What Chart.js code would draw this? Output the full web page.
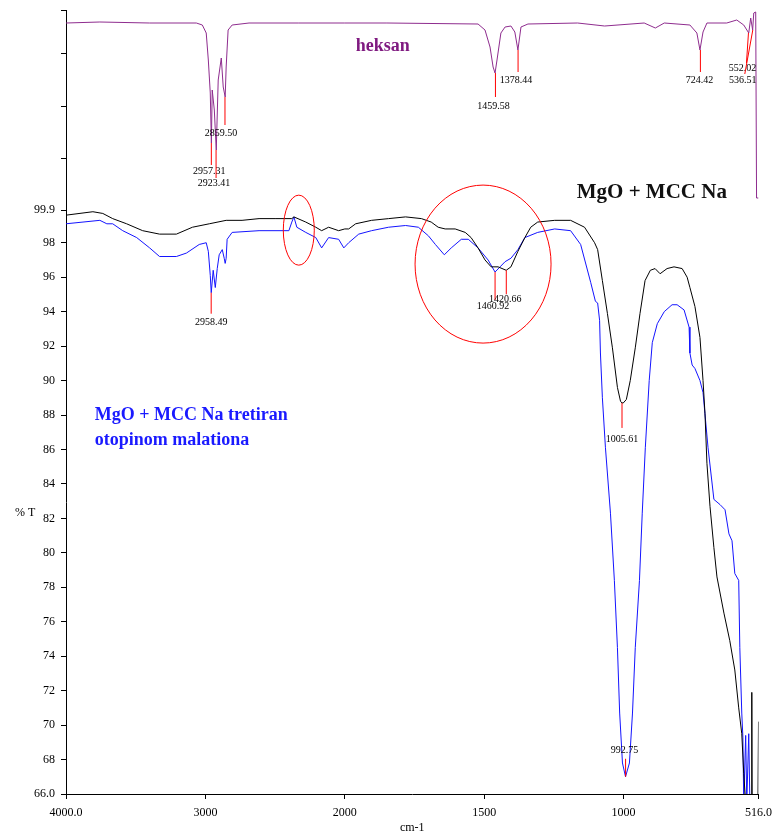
<!DOCTYPE html>
<html>
<head>
<meta charset="utf-8">
<script src="https://cdn.jsdelivr.net/npm/chart.js@4.4.1/dist/chart.umd.min.js"></script>
<style>
  html, body { margin: 0; padding: 0; background: #fff; }
  #wrap { position: relative; width: 779px; height: 835px; }
</style>
</head>
<body>
<div id="wrap"><canvas id="chart"></canvas></div>
<script>
// MgO + MCC Na (black trace), wavenumber cm-1 / %T
let mccWn = [4000, 3807, 3736, 3665, 3565, 3450, 3329, 3208, 3093, 2972, 2851, 2737, 2615, 2494, 2380, 2365, 2280, 2208, 2166, 2116,
             2044, 2000, 1986, 1961, 1904, 1843, 1782, 1725, 1690, 1665, 1640, 1604, 1568, 1547, 1522, 1497, 1475, 1450, 1421, 1404,
             1379, 1354, 1333, 1308, 1247, 1190, 1140, 1104, 1093, 1076, 1058, 1040, 1022, 1011, 1006, 1001, 990, 976, 958, 941,
             923, 904, 887, 869, 844, 819, 790, 772, 762, 744, 726, 715, 708, 701, 690, 676, 665, 640, 619, 601,
             587, 576, 569, 562, 541, 540, 539, 518, 516];
let mccT = [99.6, 99.8, 99.7, 99.4, 99.1, 98.7, 98.5, 98.5, 98.9, 99.1, 99.3, 99.3, 99.4, 99.4, 99.4, 99.5, 99.2, 98.9, 98.7, 98.9,
            98.7, 98.8, 98.8, 99.1, 99.3, 99.4, 99.5, 99.4, 99.2, 98.9, 98.8, 98.8, 98.6, 98.3, 97.7, 97.0, 96.6, 96.6, 96.4, 96.6,
            97.5, 98.3, 98.9, 99.2, 99.3, 99.3, 98.9, 98.0, 97.6, 95.8, 93.9, 91.9, 89.6, 88.8, 88.7, 88.7, 88.9, 90.0, 91.9, 93.9,
            95.8, 96.4, 96.5, 96.2, 96.5, 96.6, 96.5, 96.0, 95.4, 94.3, 92.5, 90.0, 88.1, 85.2, 82.7, 80.3, 78.6, 76.5, 74.9, 73.2,
            71.0, 69.5, 67.2, 65.5, 65.5, 71.9, 65.5, 65.5, 70.2];

// MgO + MCC Na tretiran otopinom malationa (blue trace)
let treatedWn = [4000, 3757, 3707, 3665, 3593, 3493, 3400, 3329, 3208, 3136, 3044, 2994, 2979, 2965, 2958, 2944, 2929, 2915, 2901, 2879,
                 2865, 2858, 2851, 2844, 2808, 2615, 2401, 2380, 2365, 2344, 2280, 2208, 2166, 2116, 2044, 2007, 1986, 1950, 1904, 1843,
                 1782, 1736, 1700, 1675, 1643, 1618, 1582, 1557, 1522, 1486, 1461, 1443, 1425, 1404, 1379, 1354, 1308, 1247, 1190, 1154,
                 1118, 1101, 1093, 1086, 1083, 1076, 1065, 1047, 1033, 1022, 1014, 1004, 993, 979, 968, 958, 943, 933, 922, 908,
                 897, 879, 854, 826, 808, 783, 765, 762, 754, 744, 726, 715, 697, 676, 654, 636, 622, 611, 601, 587,
                 583, 576, 572, 569, 562, 558, 551, 547, 516];
let treatedT = [99.1, 99.3, 99.1, 99.1, 98.7, 98.3, 97.7, 97.2, 97.2, 97.4, 97.9, 98.0, 97.5, 96.1, 95.1, 96.4, 95.4, 96.5, 97.3, 97.6,
                97.1, 96.8, 97.1, 98.2, 98.6, 98.7, 98.7, 99.2, 99.5, 98.9, 98.6, 98.3, 97.7, 98.3, 98.2, 97.7, 98.0, 98.5, 98.7, 98.9,
                99.0, 98.9, 98.4, 97.9, 97.3, 97.7, 98.2, 98.2, 97.7, 97.0, 96.3, 96.6, 96.9, 97.1, 97.6, 98.3, 98.6, 98.8, 98.7, 97.9,
                95.7, 94.6, 94.5, 93.5, 91.6, 89.0, 86.1, 82.3, 78.4, 74.5, 70.7, 67.8, 67.0, 67.8, 70.7, 74.5, 78.4, 82.3, 86.1, 90.0,
                92.2, 93.3, 94.0, 94.4, 94.4, 94.1, 93.1, 91.6, 90.9, 90.7, 90.0, 89.3, 86.1, 83.1, 82.8, 82.5, 81.1, 80.7, 78.8, 78.4,
                74.5, 70.7, 69.3, 65.5, 69.4, 65.5, 69.5, 65.5, 65.5];

// heksan (top panel, own %T axis)
let hexaneWn = [4000, 3757, 3400, 3065, 3022, 2994, 2979, 2965, 2957, 2951, 2936, 2922, 2908, 2886, 2872, 2858, 2851, 2837, 2808, 2687,
                2330, 2000, 1849, 1522, 1497, 1479, 1468, 1461, 1454, 1440, 1425, 1404, 1390, 1379, 1368, 1343, 1165, 1068, 926, 886,
                854, 762, 737, 726, 715, 701, 630, 594, 569, 551, 544, 537, 533, 526, 523, 516];
let hexaneT = [93.5, 94.0, 93.5, 93.5, 92.5, 88.5, 75, 58.5, 33.5, 60, 50, 30, 65, 76, 61.5, 56.5, 71.5, 90, 92.5, 93.5,
               93.5, 93.5, 93.5, 93, 90, 81.5, 71.5, 68.5, 75, 88.5, 91.5, 92, 89, 80, 91.5, 93, 93.5, 92, 93.5, 91,
               93.5, 92.5, 88.5, 80, 89, 93.5, 93.5, 95, 92.5, 88.5, 96, 90, 98.5, 99, 6, 6];

// marked peaks
let mainPeakWn = [2958.49, 1460.92, 1420.66, 1005.61, 992.75];
let mainPeakT = [95.1, 96.3, 96.4, 88.7, 67.0];
let mainPeakLabels = ["2958.49", "1460.92", "1420.66", "1005.61", "992.75"];
let hexPeakWn = [2957.31, 2923.41, 2859.50, 1459.58, 1378.44, 724.42, 552.02, 536.51];
let hexPeakT = [33.5, 30, 56.5, 68.5, 80, 80, 88.5, 90];
let hexPeakLabels = ["2957.31", "2923.41", "2859.50", "1459.58", "1378.44", "724.42", "552.02", "536.51"];

// axis ticks
let xTickWn = [4000, 3000, 2000, 1500, 1000, 516];
let xTickLabels = ["4000.0", "3000", "2000", "1500", "1000", "516.0"];
let yTickValues = [66, 68, 70, 72, 74, 76, 78, 80, 82, 84, 86, 88, 90, 92, 94, 96, 98, 99.9];
let yTickLabels = ["66.0", "68", "70", "72", "74", "76", "78", "80", "82", "84", "86", "88", "90", "92", "94", "96", "98", "99.9"];
let hexTickValues = [0, 26, 52, 78, 100];

// the instrument halves the scale above 2000 cm-1
function wnToU(wn) {
    return wn >= 2000 ? (4000 - wn) / 2 : 1000 + (2000 - wn);
}

function toPoints(wn, t) {
    var out = [];
    for (var i = 0; i < wn.length; i++) out.push({x: wnToU(wn[i]), y: t[i]});
    return out;
}

// label placement (pixels from the peak): line end dx/dy, text dx/dy
let mainPeakLayout = [
    {lx: 0, ly: 21, tx: 0, ty: 30},
    {lx: 0, ly: 28, tx: -2, ty: 34},
    {lx: 0, ly: 24, tx: -1, ty: 29},
    {lx: 0, ly: 25, tx: 0, ty: 36},
    {lx: 0, ly: -18, tx: -1, ty: -26}
];
let hexPeakLayout = [
    {lx: 0, ly: 22, tx: -2, ty: 28},
    {lx: 0, ly: 28, tx: -2, ty: 33},
    {lx: 0, ly: 28, tx: -4, ty: 36},
    {lx: 0, ly: 24, tx: -2, ty: 33},
    {lx: 0, ly: 22, tx: -2, ty: 30},
    {lx: 0, ly: 22, tx: -1, ty: 30},
    {lx: -2, ly: 30, tx: -6, ty: 35},
    {lx: -8, ly: 44, tx: -10, ty: 50}
];

const serif = "'Liberation Serif', 'Times New Roman', serif";

const annotate = {
    id: 'annotate',
    afterDatasetsDraw(chart) {
        const ctx = chart.ctx;
        const xs = chart.scales.x, ys = chart.scales.y, yh = chart.scales.yHex;
        ctx.save();

        function peaks(wn, t, labels, layout, scale) {
            for (var i = 0; i < wn.length; i++) {
                let px = xs.getPixelForValue(wnToU(wn[i]));
                let py = scale.getPixelForValue(t[i]);
                let l = layout[i];
                ctx.strokeStyle = '#ff0000';
                ctx.lineWidth = 1;
                ctx.beginPath();
                ctx.moveTo(px, py);
                ctx.lineTo(px + l.lx, py + l.ly);
                ctx.stroke();
                ctx.fillStyle = '#000';
                ctx.font = '10px ' + serif;
                ctx.textAlign = 'center';
                ctx.textBaseline = 'middle';
                ctx.fillText(labels[i], px + l.tx, py + l.ty);
            }
        }
        peaks(hexPeakWn, hexPeakT, hexPeakLabels, hexPeakLayout, yh);
        peaks(mainPeakWn, mainPeakT, mainPeakLabels, mainPeakLayout, ys);

        // red rings
        ctx.strokeStyle = '#ff0000';
        ctx.lineWidth = 1;
        ctx.beginPath();
        ctx.ellipse(xs.getPixelForValue(wnToU(2330)), ys.getPixelForValue(98.73), 15.5, 35, 0, 0, Math.PI * 2);
        ctx.stroke();
        ctx.beginPath();
        ctx.ellipse(xs.getPixelForValue(wnToU(1504)), ys.getPixelForValue(96.76), 68, 79, 0, 0, Math.PI * 2);
        ctx.stroke();

        // titles
        ctx.textAlign = 'left';
        ctx.textBaseline = 'middle';
        ctx.font = 'bold 18px ' + serif;
        ctx.fillStyle = '#7f1a80';
        ctx.fillText('heksan', xs.getPixelForValue(wnToU(1961)), yh.getPixelForValue(82));
        ctx.font = 'bold 21px ' + serif;
        ctx.fillStyle = '#111';
        ctx.fillText('MgO + MCC Na', xs.getPixelForValue(wnToU(1168)), yh.getPixelForValue(8.5));
        ctx.font = 'bold 18px ' + serif;
        ctx.fillStyle = '#1a1aff';
        ctx.fillText('MgO + MCC Na tretiran', xs.getPixelForValue(wnToU(3793)), ys.getPixelForValue(88.0));
        ctx.fillText('otopinom malationa', xs.getPixelForValue(wnToU(3793)), ys.getPixelForValue(86.55));

        // horizontal y title
        ctx.font = '12px ' + serif;
        ctx.fillStyle = '#000';
        ctx.fillText('% T', 15, ys.getPixelForValue(82.3));
        ctx.restore();
    }
};

Chart.defaults.font.family = serif;
Chart.defaults.font.size = 12;
Chart.defaults.color = '#000';

let tickGrid = {drawOnChartArea: false, drawTicks: true, tickLength: 5, color: '#000'};

// y scales: fixed width, no extra room for half labels
function fitY(s) {
    s.width = 66;
    s.paddingTop = 0;
    s.paddingBottom = 0;
}

var ctx = document.getElementById('chart');
var chart = new Chart(ctx, {
    type: 'line',
    data: {
        datasets: [
            {label: 'MgO + MCC Na', data: toPoints(mccWn, mccT), borderColor: '#000', yAxisID: 'y'},
            {label: 'MgO + MCC Na tretiran', data: toPoints(treatedWn, treatedT), borderColor: '#1414ff', yAxisID: 'y'},
            {label: 'heksan', data: toPoints(hexaneWn, hexaneT), borderColor: '#8e2c8e', yAxisID: 'yHex'}
        ]
    },
    options: {
        responsive: true,
        maintainAspectRatio: false,
        animation: false,
        parsing: false,
        elements: {
            point: {radius: 0},
            line: {borderWidth: 1, tension: 0}
        },
        layout: {padding: {left: 0, right: 17, top: 10, bottom: 0}},
        plugins: {legend: {display: false}, tooltip: {enabled: false}},
        scales: {
            x: {
                type: 'linear',
                min: 0,
                max: wnToU(516),
                grid: tickGrid,
                border: {color: '#000'},
                afterBuildTicks: s => { s.ticks = xTickWn.map(w => ({value: wnToU(w)})); },
                afterFit: s => { s.height = 41; },
                ticks: {
                    autoSkip: false,
                    maxRotation: 0,
                    padding: 7,
                    callback: (v, i) => xTickLabels[i]
                },
                title: {display: true, text: 'cm-1', padding: {top: 0, bottom: 0}}
            },
            y: {
                type: 'linear',
                position: 'left',
                stack: 'ir',
                stackWeight: 584,
                min: 66,
                max: 99.9,
                grid: tickGrid,
                border: {color: '#000'},
                afterBuildTicks: s => { s.ticks = yTickValues.map(v => ({value: v})); },
                afterFit: fitY,
                ticks: {padding: 6, callback: (v, i) => yTickLabels[i]}
            },
            yHex: {
                type: 'linear',
                position: 'left',
                stack: 'ir',
                stackWeight: 200,
                min: 0,
                max: 100,
                grid: tickGrid,
                border: {color: '#000'},
                afterBuildTicks: s => { s.ticks = hexTickValues.map(v => ({value: v})); },
                afterFit: fitY,
                ticks: {callback: () => ''}
            }
        }
    },
    plugins: [annotate]
});
</script>
</body>
</html>
